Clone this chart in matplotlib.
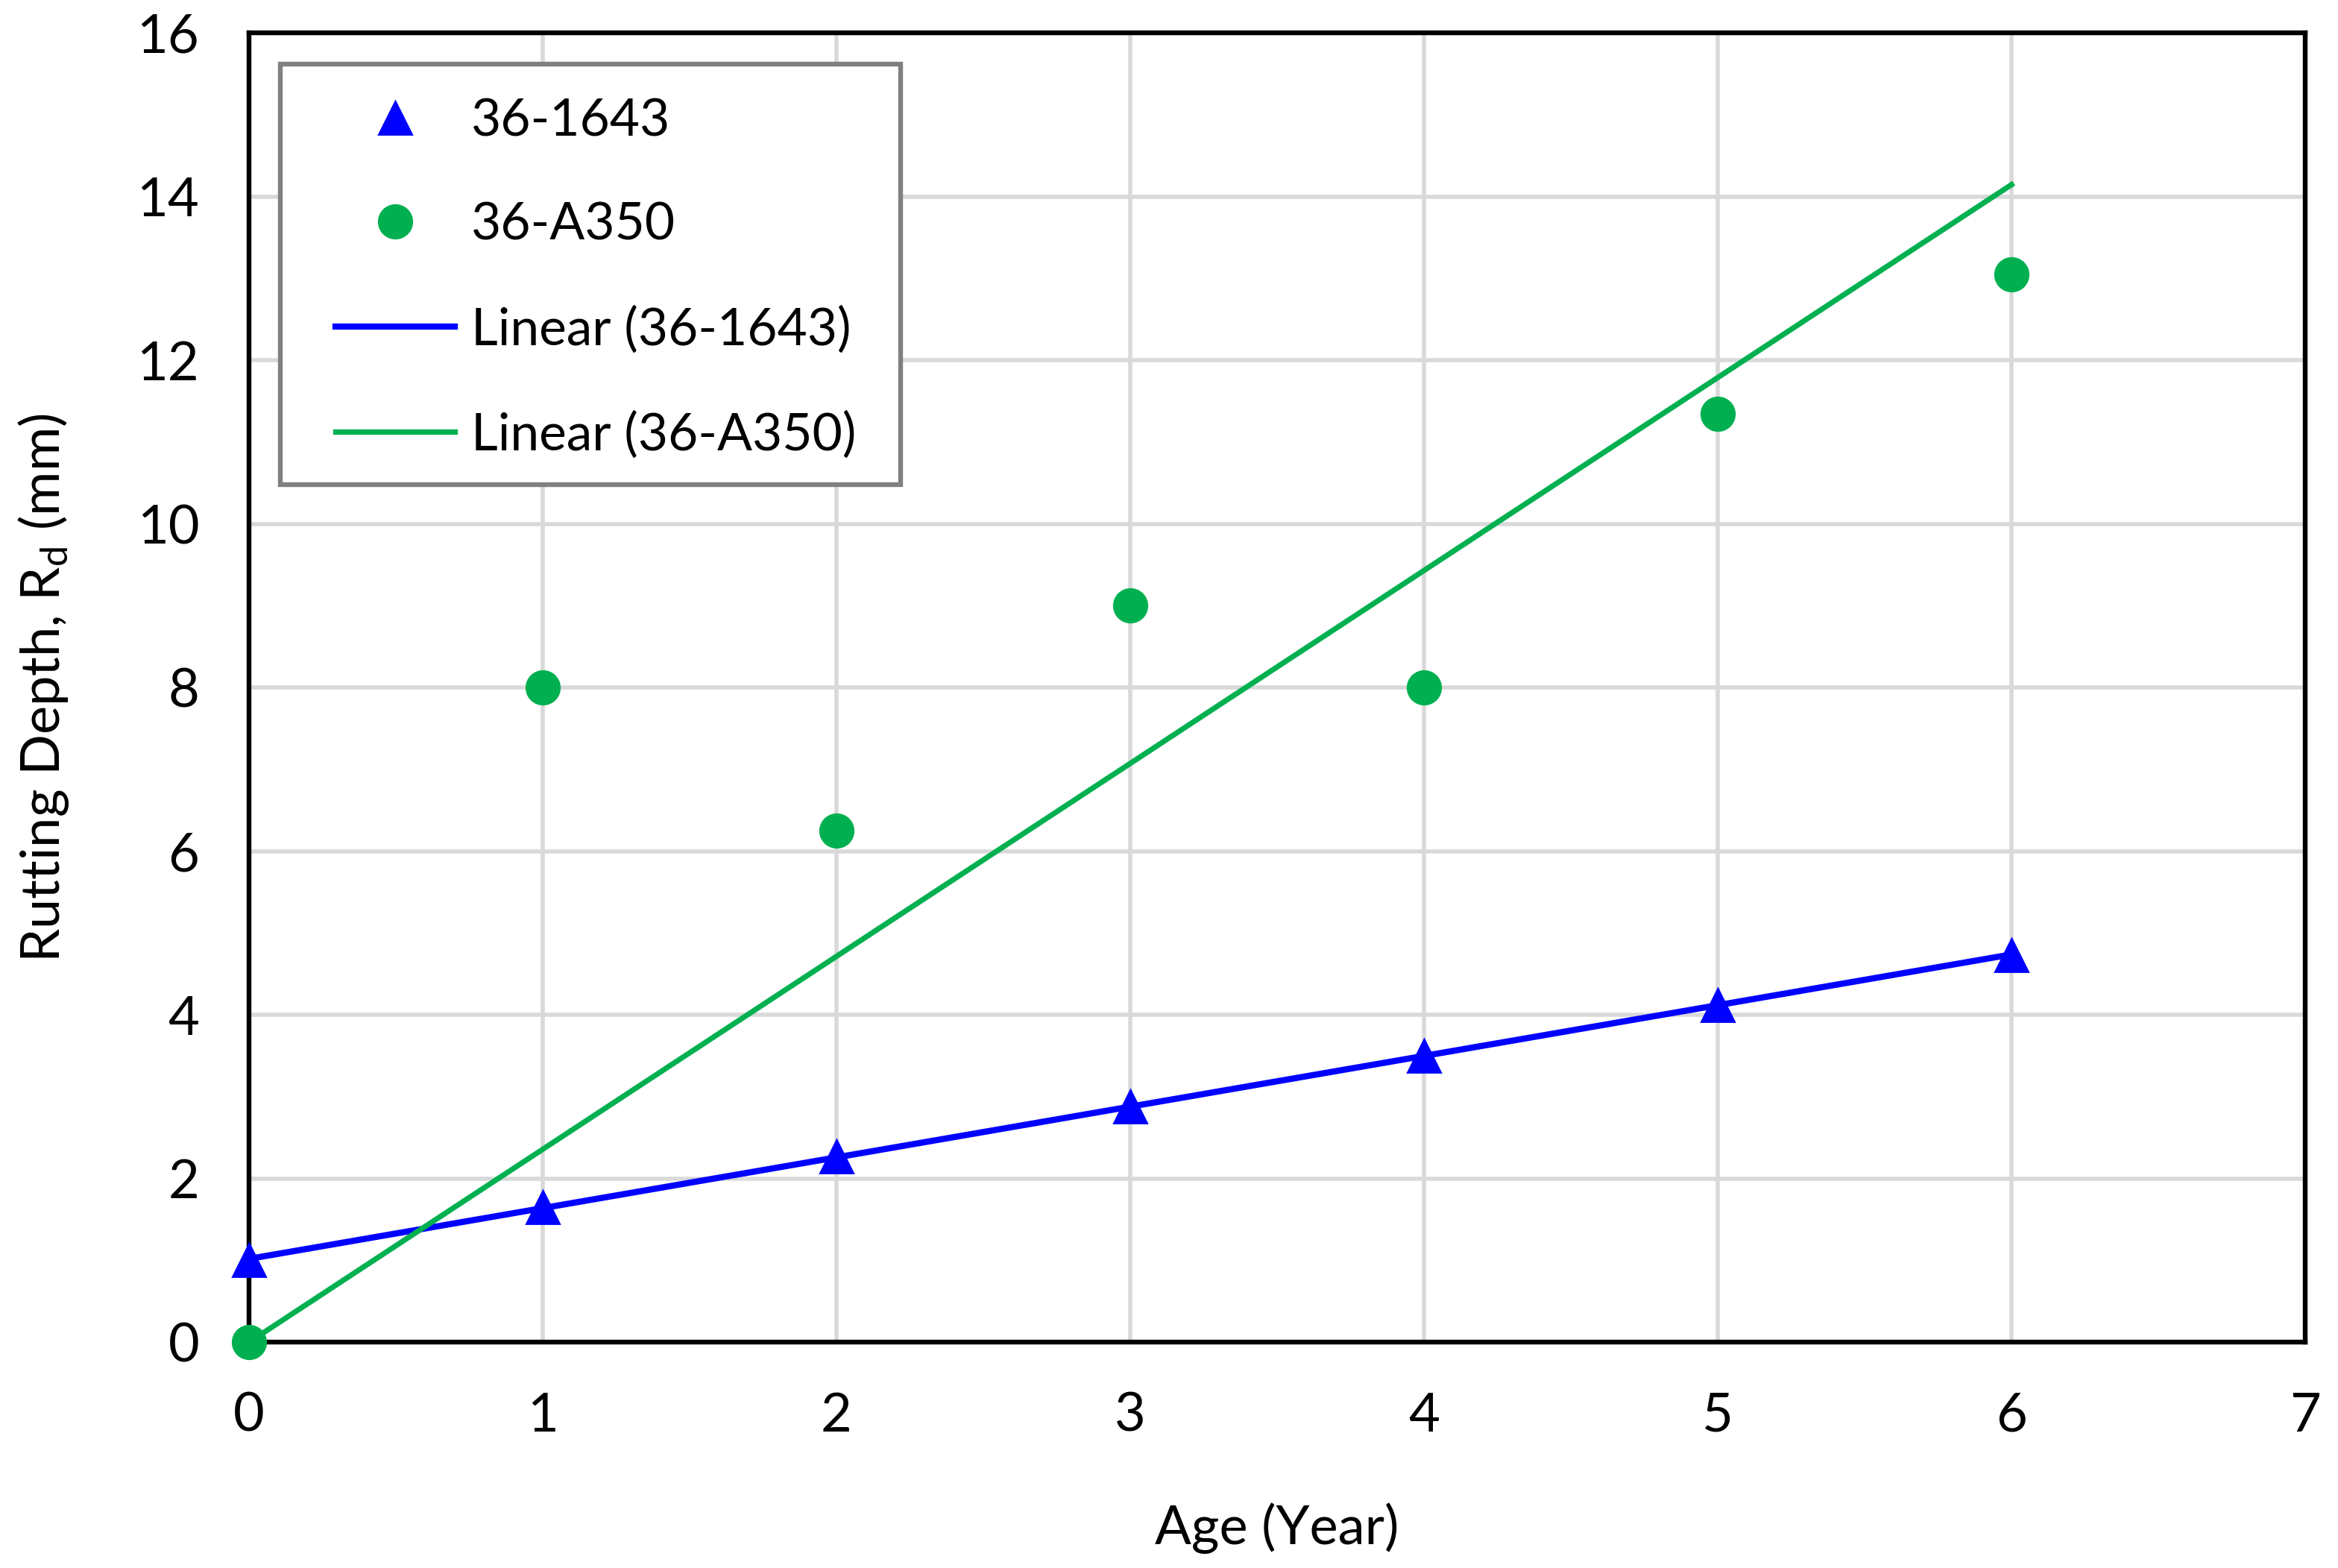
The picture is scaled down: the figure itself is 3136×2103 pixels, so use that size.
import numpy as np
import matplotlib
matplotlib.use("Agg")
import matplotlib.pyplot as plt
from matplotlib.patches import Rectangle

plt.rcParams.update({
    "font.family": ["Lato", "DejaVu Sans"],
    "font.size": 26,
})

# data
age = [0, 1, 2, 3, 4, 5, 6]
rut_1643 = [1.0, 1.65, 2.27, 2.88, 3.50, 4.12, 4.73]
rut_a350 = [0.0, 8.0, 6.25, 9.0, 8.0, 11.35, 13.05]

x = np.array(age, dtype=float)
y1 = np.array(rut_1643)
y2 = np.array(rut_a350)

# trendlines: ordinary fit for 36-1643, fit through origin for 36-A350
b1, a1 = np.polyfit(x, y1, 1)
b2 = np.sum(x * y2) / np.sum(x * x)
xf = np.array([x.min(), x.max()])

blue = "#0000FF"
green = "#00B050"

fig = plt.figure(figsize=(15.68, 10.515), dpi=200)
ax = fig.add_axes([0.1065, 0.144, 0.8795, 0.835])

ax.plot(x, y1, linestyle="none", marker="^", ms=16, color=blue,
        label="36-1643", zorder=5, clip_on=False)
ax.plot(x, y2, linestyle="none", marker="o", ms=16, color=green,
        label="36-A350", zorder=5, clip_on=False)
ax.plot(xf, a1 + b1 * xf, color=blue, lw=3.0, label="Linear (36-1643)", zorder=4)
ax.plot(xf, b2 * xf, color=green, lw=2.6, label="Linear (36-A350)", zorder=4)

ax.set_xlim(0, 7)
ax.set_ylim(0, 16)
ax.set_xticks(range(0, 8))
ax.set_yticks(range(0, 17, 2))
ax.grid(True, color="#D9D9D9", lw=2)
ax.set_axisbelow(True)
ax.tick_params(length=0, pad=24, labelsize=26)
for s in ax.spines.values():
    s.set_linewidth(2.3)
    s.set_color("black")

ax.set_xlabel("Age (Year)", fontsize=26, labelpad=30)
ax.set_ylabel(r"Rutting Depth, R$_\mathregular{d}$ (mm)", fontsize=26, labelpad=32)

# legend box drawn separately so its size can match the original
box = Rectangle((0.0152, 0.655), 0.3017, 0.321, transform=ax.transAxes,
                facecolor="white", edgecolor="#808080", lw=2.3, zorder=6)
ax.add_patch(box)

leg = ax.legend(loc="upper left", bbox_to_anchor=(0.042, 0.9505),
                borderaxespad=0, borderpad=0, frameon=False,
                fontsize=25, labelspacing=1.1,
                handlelength=2.3, handletextpad=0.32)
leg.set_zorder(7)

fig.savefig("out.png", dpi=200, facecolor="white")
